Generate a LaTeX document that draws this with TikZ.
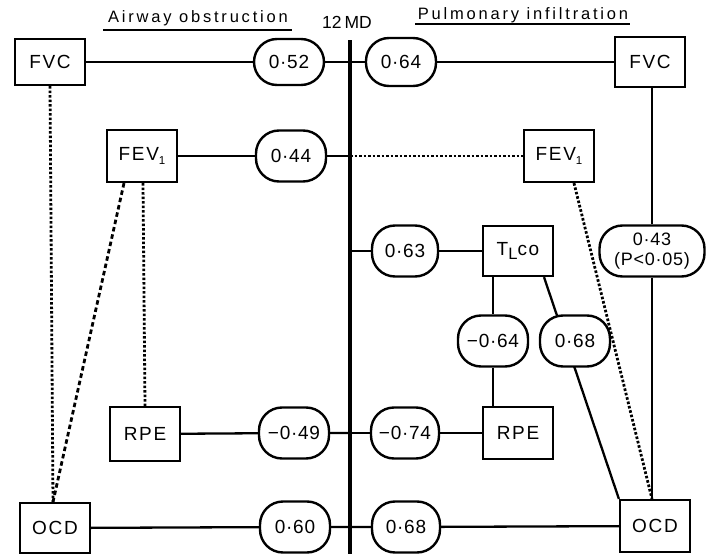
\documentclass[tikz,border=0pt]{standalone}
\usepackage{fontspec}
\setmainfont{Liberation Sans}
\newfontfamily\headfont[LetterSpace=17]{Liberation Sans}
\newfontfamily\boxfont[LetterSpace=9]{Liberation Sans}
\newfontfamily\numfont[LetterSpace=4]{Liberation Sans}
\usetikzlibrary{calc}
\pgfdeclarelayer{bg}
\pgfsetlayers{bg,main}
\begin{document}
\begin{tikzpicture}[x=1pt,y=-1pt,
  box/.style={draw,line width=2.2pt,minimum width=70pt,minimum height=50pt,inner sep=0pt,
    font=\boxfont\fontsize{19}{20}\selectfont,fill=white},
  val/.style={draw,line width=2.4pt,rounded corners=23pt,minimum width=70pt,minimum height=51pt,
    inner sep=0pt,font=\numfont\fontsize{19}{20}\selectfont,fill=white,align=center},
  conn/.style={line width=2.3pt},
  dotl/.style={line width=2.8pt,dash pattern=on 2.6pt off 1.9pt},
  dashl/.style={line width=2.8pt,dash pattern=on 4.5pt off 3pt},
  head/.style={inner sep=0pt,font=\headfont\fontsize{16.5}{16.5}\selectfont}]
\useasboundingbox (0,0) rectangle (713,554);
\begin{pgfonlayer}{bg}
\fill[white] (0,0) rectangle (713,554);
\end{pgfonlayer}

% headings
\node[head] (hA) at (198,18) {Airway obstruction};
\node[head] (hP) at (523,15) {Pulmonary infiltration};
\coordinate (ulA1) at (103,30); \coordinate (ulA2) at (292,30);
\coordinate (ulP1) at (415,24); \coordinate (ulP2) at (630,24);
\draw[line width=1.6pt] (ulA1) -- (ulA2);
\draw[line width=1.6pt] (ulP1) -- (ulP2);
\node[inner sep=0pt,font=\fontsize{17.5}{17.5}\selectfont] (md) at (347,22) {12\,MD};

% central line
\coordinate (vtop) at (350,40);
\coordinate (vbot) at (350,556);
\draw[line width=4pt] (vtop) -- (vbot);
\coordinate (v1) at (350,62);
\coordinate (v2) at (350,156);
\coordinate (v3) at (350,251);
\coordinate (v4) at (350,433);
\coordinate (v5) at (350,527);

% left side
\node[box,minimum height=46pt] (LFVC) at (50,62) {FVC};
\node[box,minimum height=52pt] (LFEV) at (142,156) {FEV\raisebox{-4pt}{\fontsize{11.5}{11.5}\selectfont 1}};
\node[box,minimum height=54pt] (LRPE) at (145,434) {RPE};
\node[box] (LOCD) at (55,528) {OCD};
\node[val,minimum height=46pt] (E052) at (289,62) {0·52};
\node[val] (E044) at (291,156) {0·44};
\node[val] (E049) at (294,433) {−0·49};
\node[val] (E060) at (295,527) {0·60};

% right side
\node[val,minimum height=48pt] (E064) at (401,62) {0·64};
\node[box] (RFVC) at (650,62) {FVC};
\node[box,minimum height=52pt] (RFEV) at (559,156) {FEV\raisebox{-4pt}{\fontsize{11.5}{11.5}\selectfont 1}};
\node[val,minimum width=66pt] (E063) at (405,251) {0·63};
\node[box] (TLco) at (518,251) {T\raisebox{-4pt}{\fontsize{16.5}{16.5}\selectfont L}co};
\node[val,minimum width=105pt,font=\numfont\fontsize{18}{20}\selectfont] (E043) at (652,251) {0·43\\(P<0·05)};
\node[val] (Em064) at (493,341) {−0·64};
\node[val] (E068u) at (575,341) {0·68};
\node[val,minimum width=68pt] (E074) at (405,433) {−0·74};
\node[box,minimum height=52pt] (RRPE) at (518,433) {RPE};
\node[val,minimum width=68pt] (E068b) at (406,527) {0·68};
\node[box,minimum height=52pt] (ROCD) at (655,526) {OCD};

% solid connectors left
\draw[conn] (LFVC) -- (E052) -- (v1);
\draw[conn] (LFEV) -- (E044) -- (v2);
\draw[conn] (LRPE) -- (E049) -- (v4);
\draw[conn] (LOCD) -- (E060) -- (v5);

% solid connectors right
\draw[conn] (v1) -- (E064) -- (RFVC);
\draw[conn] (v3) -- (E063) -- (TLco);
\draw[conn] (v4) -- (E074) -- (RRPE);
\draw[conn] (v5) -- (E068b) -- (ROCD);
\draw[conn] (RFVC.south -| E043) -- (E043) -- (E043 |- ROCD.north);
\draw[conn] (TLco.south -| Em064) -- (Em064) -- (Em064 |- RRPE.north);
\coordinate (tlb) at ($(TLco.south)+(26,0)$);
\begin{pgfonlayer}{bg}
\draw[conn] (tlb) -- (ROCD.north west);
\end{pgfonlayer}

% dotted / dashed connectors
\draw[dotl] (v2) -- (RFEV);
\coordinate (locdtop) at ($(LOCD.north)+(-2,0)$);
\draw[dotl] (LFVC.south) -- (locdtop);
\draw[dashl] ($(LFEV.south)+(-18,0)$) -- (locdtop);
\draw[dotl] ($(LFEV.south)+(1,0)$) -- (LRPE.north);
\draw[dotl] ($(RFEV.south)+(15,0)$) -- ($(ROCD.north)+(-3,0)$);
\end{tikzpicture}
\end{document}
